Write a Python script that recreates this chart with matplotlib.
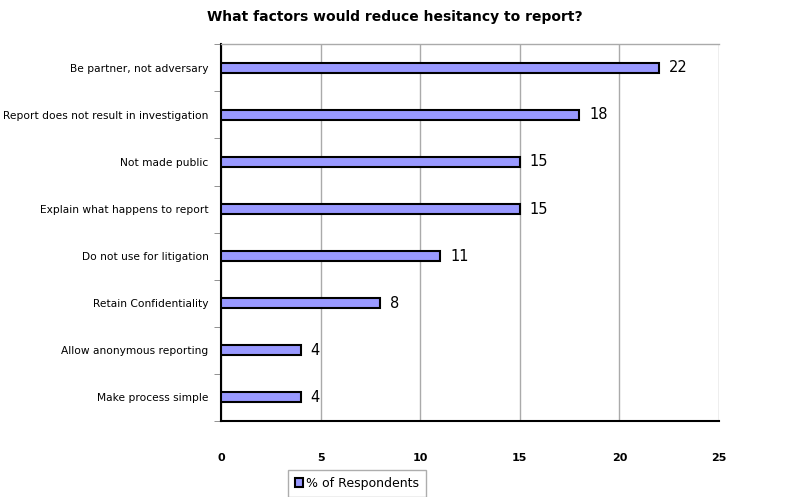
import numpy as np
import matplotlib
matplotlib.use('Agg')
import matplotlib.pyplot as plt

categorias = ['Be partner, not adversary', 'Report does not result in investigation',
              'Not made public', 'Explain what happens to report', 'Do not use for litigation',
              'Retain Confidentiality', 'Allow anonymous reporting', 'Make process simple']
valores = [22, 18, 15, 15, 11, 8, 4, 4]
ticks_x = [0, 5, 10, 15, 20, 25]

fig = plt.figure(figsize=(7.9, 4.97), dpi=100)
ax = fig.add_axes([0.2797, 0.153, 0.6303, 0.758])

pos = np.arange(len(categorias))[::-1]
ax.barh(pos, valores, height=0.21, color='#9999ff', edgecolor='black', linewidth=1.5, zorder=3,
        label='% of Respondents')
for p, v in zip(pos, valores):
    ax.text(v + 0.5, p, f'{v}', va='center', ha='left', fontsize=10.5, zorder=4)

ax.set_xlim(0, 25)
ax.set_ylim(-0.5, len(categorias) - 0.5)
ax.set_xticks(ticks_x)
ax.set_xticklabels([str(t) for t in ticks_x], fontsize=8, fontweight='bold')
ax.tick_params(axis='x', length=0, pad=23)
ax.set_yticks(pos)
ax.set_yticklabels(categorias, fontsize=7.7)
ax.tick_params(axis='y', which='major', length=0, pad=9)
ax.set_yticks(np.arange(-0.5, len(categorias), 1), minor=True)
ax.tick_params(axis='y', which='minor', length=5, color='gray', direction='out')
ax.grid(axis='x', color='#aaaaaa', linewidth=1, zorder=0)
ax.spines['top'].set_color('#aaaaaa')
ax.spines['top'].set_linewidth(1)
ax.spines['right'].set_visible(False)
ax.spines['left'].set_linewidth(1.5)
ax.spines['bottom'].set_linewidth(1.5)

plt.suptitle('What factors would reduce hesitancy to report?', fontsize=10, fontweight='bold', y=0.98)

leg = fig.legend(loc='lower left', bbox_to_anchor=(282 / 790, -0.012), fontsize=9, frameon=True,
                 fancybox=False, edgecolor='#999999', handlelength=0.65, handleheight=0.65,
                 handletextpad=0.25, borderpad=0.55)

plt.savefig('out.png', dpi=100)
